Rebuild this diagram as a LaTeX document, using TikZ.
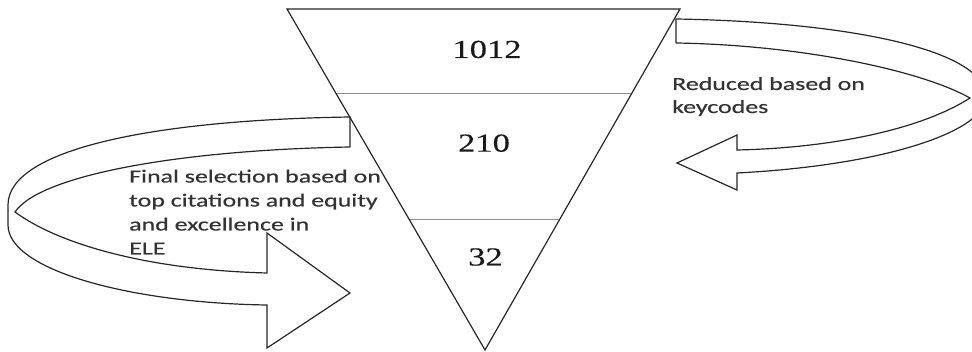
\documentclass[tikz,border=0pt]{standalone}
\usepackage{fontspec}
\usetikzlibrary{calc}
\newfontfamily\lblfont[FakeStretch=1.4,FakeBold=0.5]{Carlito}
\newfontfamily\numfont[FakeStretch=1.33,FakeBold=0.3]{Liberation Serif}
\begin{document}
\begin{tikzpicture}[x=1pt,y=-1pt,line join=miter,
  shapeline/.style={draw=black!85,line width=1.2pt},
  divider/.style={draw=black!45,line width=0.7pt},
  numlbl/.style={font=\numfont\fontsize{26}{30}\selectfont,inner sep=0pt,anchor=base,text=black!90},
  notelbl/.style={font=\lblfont\fontsize{18.5}{22}\selectfont,inner sep=0pt,anchor=base west,text=black!80}]
\useasboundingbox (0,0) rectangle (972,352);
\clip (0,0) rectangle (972,352);
% funnel
\coordinate (tl) at (287,9);
\coordinate (tr) at (680,9);
\coordinate (ap) at (485,350);
\coordinate (d1l) at ($(tl)!0.2463!(ap)$);
\coordinate (d1r) at ($(tr)!0.2463!(ap)$);
\coordinate (d2l) at ($(tl)!0.6158!(ap)$);
\coordinate (d2r) at ($(tr)!0.6158!(ap)$);
\draw[divider] (d1l) -- (d1r);
\draw[divider] (d2l) -- (d2r);
\draw[shapeline] (tl) -- (tr) -- (ap) -- cycle;
\node[numlbl] (n1) at (487,58) {1012};
\node[numlbl] (n2) at (484,151.7) {210};
\node[numlbl] (n3) at (485.5,265.5) {32};
% labels
\node[notelbl] (rt1) at (672,90) {Reduced based on};
\node[notelbl] (rt2) at (672,113) {keycodes};
\node[notelbl] (lt1) at (129,182.5) {Final selection based on};
\node[notelbl] (lt2) at (129,206.5) {top citations and equity};
\node[notelbl] (lt3) at (129,230.5) {and excellence in};
\node[notelbl] (lt4) at (129,254.5) {ELE};
% right curved arrow
\draw[shapeline] (676,43) -- (676,19)
  .. controls (850,22) and (986,50) .. (986,97)
  .. controls (986,130) and (890,165) .. (737,173)
  -- (737,190) -- (677,163) -- (737,135) -- (737,150)
  .. controls (830,148) and (920,130) .. (970,98)
  .. controls (920,70) and (800,45) .. (676,43);
% left curved arrow
\draw[shapeline] (350,147) -- (350,117)
  .. controls (150,120) and (8,150) .. (8,205)
  -- (8,225)
  .. controls (8,270) and (130,303) .. (267,305)
  -- (267,348) -- (350,293) -- (267,233) -- (267,273)
  .. controls (150,270) and (60,245) .. (15,212)
  .. controls (40,175) and (180,150) .. (350,147);
\end{tikzpicture}
\end{document}
